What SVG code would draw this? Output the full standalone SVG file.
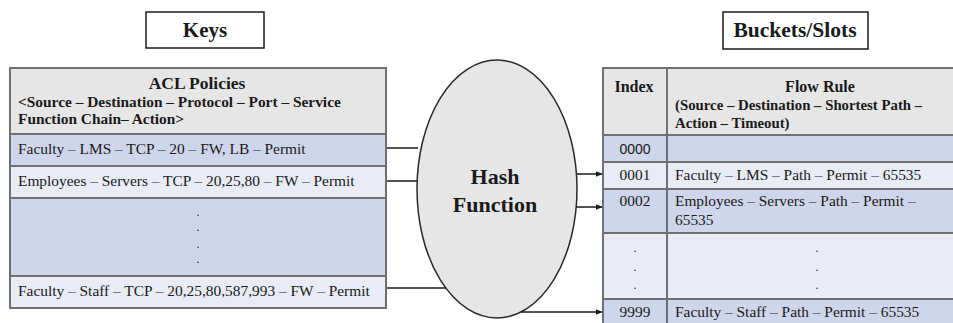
<svg xmlns="http://www.w3.org/2000/svg" width="953" height="323" viewBox="0 0 953 323">
  <style>
    .t { font-family: "Liberation Serif", "Times New Roman", serif; fill: #1a1a1a; }
    .b { font-weight: bold; }
    .body { font-size: 15.4px; }
    .dot { font-family: "Liberation Serif", "Times New Roman", serif; fill: #1a1a1a; font-size: 12px; text-anchor: middle; }
    .sans { font-family: "Liberation Sans", Arial, sans-serif; fill: #1a1a1a; font-size: 14px; }
    .title { fill: #ffffff; stroke: #1a1a1a; stroke-width: 1.5; }
    .hdr { fill: #e7e6e6; }
    .dark { fill: #cfd5ea; }
    .light { fill: #e9ebf5; }
    .grid { stroke: #707070; stroke-width: 2; fill: none; }
    .conn { stroke: #1a1a1a; stroke-width: 1.5; fill: none; }
  </style>
  <defs>
    <marker id="arrow" markerWidth="7" markerHeight="6" refX="6.5" refY="3" orient="auto" markerUnits="userSpaceOnUse">
      <path d="M0,0 L7,3 L0,6 z" fill="#1a1a1a"/>
    </marker>
  </defs>
  <rect width="953" height="323" fill="#ffffff"/>

  <g id="keys-title">
    <rect class="title" x="146" y="12" width="118" height="36"/>
    <text class="t b" x="205" y="37" font-size="21" text-anchor="middle">Keys</text>
  </g>

  <g id="buckets-title">
    <rect class="title" x="723" y="12" width="145" height="37"/>
    <text class="t b" x="795" y="37" font-size="21.5" text-anchor="middle">Buckets/Slots</text>
  </g>

  <g id="acl-table">
    <rect class="hdr" x="10" y="68" width="376" height="66"/>
    <rect class="dark" x="10" y="134" width="376" height="32"/>
    <rect class="light" x="10" y="166" width="376" height="32"/>
    <rect class="dark" x="10" y="198" width="376" height="78"/>
    <rect class="light" x="10" y="276" width="376" height="32"/>
    <path class="grid" d="M10,68 H386 V308 H10 Z M10,134 H386 M10,166 H386 M10,198 H386 M10,276 H386"/>
    <text class="t b" x="197" y="89" font-size="17.5" text-anchor="middle">ACL Policies</text>
    <text class="t b" x="18" y="107" font-size="15.4">&lt;Source – Destination – Protocol – Port – Service</text>
    <text class="t b" x="18" y="124" font-size="15.4">Function Chain– Action&gt;</text>
    <text class="t body" x="18" y="154">Faculty – LMS – TCP – 20 – FW, LB – Permit</text>
    <text class="t body" x="18" y="186">Employees – Servers – TCP – 20,25,80 – FW – Permit</text>
    <text class="dot" x="198" y="216">.</text>
    <text class="dot" x="198" y="231">.</text>
    <text class="dot" x="198" y="248">.</text>
    <text class="dot" x="198" y="263">.</text>
    <text class="t body" x="18" y="296">Faculty – Staff – TCP – 20,25,80,587,993 – FW – Permit</text>
  </g>

  <g id="hash-function">
    <ellipse cx="497" cy="189" rx="80" ry="129" fill="#e6e6e6" stroke="#2a2a2a" stroke-width="1.5"/>
    <text class="t b" x="495" y="184" font-size="22" text-anchor="middle">Hash</text>
    <text class="t b" x="495" y="212" font-size="22" text-anchor="middle">Function</text>
  </g>

  <g id="flow-table">
    <rect class="hdr" x="603" y="68" width="360" height="67"/>
    <rect class="dark" x="603" y="135" width="360" height="27"/>
    <rect class="light" x="603" y="162" width="360" height="27"/>
    <rect class="dark" x="603" y="189" width="360" height="44"/>
    <rect class="light" x="603" y="233" width="360" height="66"/>
    <rect class="dark" x="603" y="299" width="360" height="30"/>
    <path class="grid" d="M963,68 H603 V330 M603,135 H963 M603,162 H963 M603,189 H963 M603,233 H963 M603,299 H963 M667,68 V330"/>
    <text class="t b" x="634" y="92" font-size="16" text-anchor="middle">Index</text>
    <text class="t b" x="820" y="92" font-size="16" text-anchor="middle">Flow Rule</text>
    <text class="t b" x="675" y="110" font-size="14.8">(Source – Destination – Shortest Path –</text>
    <text class="t b" x="675" y="128" font-size="14.8">Action – Timeout)</text>
    <text class="sans" x="635" y="154" text-anchor="middle">0000</text>
    <text class="t body" x="635" y="180" text-anchor="middle">0001</text>
    <text class="t body" x="675" y="180">Faculty – LMS – Path – Permit – 65535</text>
    <text class="t body" x="635" y="206" text-anchor="middle">0002</text>
    <text class="t body" x="675" y="206">Employees – Servers – Path – Permit –</text>
    <text class="t body" x="675" y="225">65535</text>
    <text class="dot" x="635" y="252">.</text>
    <text class="dot" x="635" y="271">.</text>
    <text class="dot" x="635" y="289">.</text>
    <text class="dot" x="817" y="252">.</text>
    <text class="dot" x="817" y="271">.</text>
    <text class="dot" x="817" y="289">.</text>
    <text class="t body" x="635" y="317" text-anchor="middle">9999</text>
    <text class="t body" x="675" y="317">Faculty – Staff – Path – Permit – 65535</text>
  </g>

  <g id="connectors">
    <line class="conn" x1="387" y1="148" x2="418" y2="148"/>
    <line class="conn" x1="387" y1="181" x2="417" y2="181"/>
    <line class="conn" x1="387" y1="288" x2="446" y2="288"/>
    <line class="conn" x1="577" y1="174" x2="602" y2="174" marker-end="url(#arrow)"/>
    <line class="conn" x1="576" y1="207" x2="602" y2="207" marker-end="url(#arrow)"/>
    <line class="conn" x1="521" y1="312" x2="602" y2="312" marker-end="url(#arrow)"/>
  </g>
</svg>
